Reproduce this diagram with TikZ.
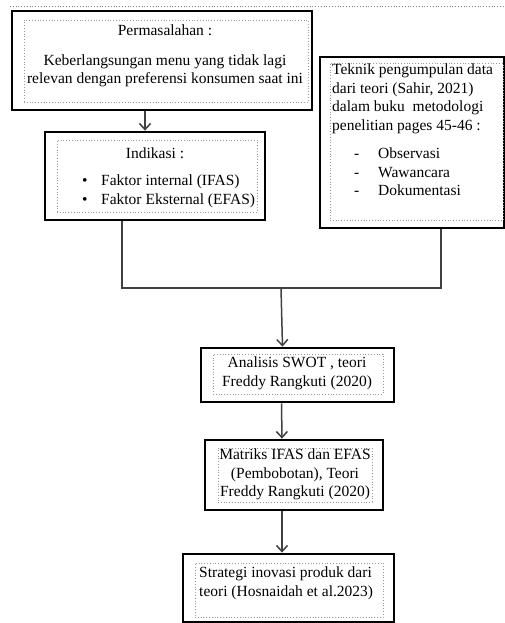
\documentclass[tikz,border=0pt]{standalone}
\usepackage{fontspec}
\setmainfont{Liberation Serif}
\usetikzlibrary{arrows.meta}

\newcommand{\butir}[1]{\makebox[19pt][l]{\textbullet}#1}
\newcommand{\tanda}[1]{\hspace*{22pt}\makebox[24pt][l]{-}#1}

\tikzset{
  kotak/.style args={#1 by #2}{draw=black,line width=2.8pt,minimum width=#1,minimum height=#2,inner sep=0pt},
  bingkai/.style args={#1 by #2}{draw=gray!80,dotted,line width=0.8pt,minimum width=#1,minimum height=#2,inner sep=0pt},
  teks/.style={inner sep=0pt,align=center,text=black},
  panah/.style={draw=black!75,line width=1.5pt}
}

\begin{document}
\begin{tikzpicture}[x=1pt,y=-1pt,>={Straight Barb[length=6pt,width=11pt]},
  font=\fontsize{15.5pt}{18.5pt}\selectfont]
  \useasboundingbox (0,0) rectangle (505,623);
  \draw[dotted,gray,line width=0.8pt] (10,6) -- (505,6);

  % permasalahan
  \node[kotak={300pt by 99pt}] (masalah) at (162,60.5) {};
  \node[bingkai={284pt by 82pt}] (masalah-in) at (166,61) {};
  \node[teks,anchor=north] (masalah-txt) at (165,25) {Permasalahan :\\[11pt]Keberlangsungan menu yang tidak lagi\\relevan dengan preferensi konsumen saat ini};

  % indikasi
  \node[kotak={220pt by 88pt}] (indikasi) at (155,176) {};
  \node[bingkai={200pt by 72pt}] (indikasi-in) at (157,176) {};
  \node[teks,anchor=north] (indikasi-judul) at (155,148) {Indikasi :};
  \node[teks,anchor=north west,align=left] (indikasi-isi) at (82,175) {\butir{Faktor internal (IFAS)}\\\butir{Faktor Eksternal (EFAS)}};

  % teknik pengumpulan data
  \node[kotak={184pt by 171pt}] (teknik) at (412,142.5) {};
  \node[bingkai={173pt by 157pt}] (teknik-in) at (416.5,141.5) {};
  \node[teks,anchor=north west,align=left] (teknik-txt) at (332,64) {Teknik pengumpulan data\\dari teori (Sahir, 2021)\\dalam buku\ \ metodologi\\penelitian pages 45-46 :\\[10pt]\tanda{Observasi}\\\tanda{Wawancara}\\\tanda{Dokumentasi}};

  % analisis swot
  \node[kotak={193pt by 54pt}] (swot) at (297.5,375) {};
  \node[bingkai={170pt by 40pt}] (swot-in) at (298,374) {};
  \node[teks,anchor=north] (swot-txt) at (297,357) {Analisis SWOT , teori\\Freddy Rangkuti (2020)};

  % matriks ifas efas
  \node[kotak={178pt by 70pt}] (matriks) at (294,475) {};
  \node[bingkai={154pt by 54pt}] (matriks-in) at (295,475) {};
  \node[teks,anchor=north] (matriks-txt) at (295,449) {Matriks IFAS dan EFAS\\(Pembobotan), Teori\\Freddy Rangkuti (2020)};

  % strategi
  \node[kotak={211pt by 68pt}] (strategi) at (288.5,588) {};
  \node[bingkai={188pt by 54pt}] (strategi-in) at (289,590) {};
  \node[teks,anchor=north west,align=left] (strategi-txt) at (199,567) {Strategi inovasi produk dari\\teori (Hosnaidah et al.2023)};

  % penghubung
  \coordinate (temu) at (281,288);
  \draw[panah,->] ([xshift=-17pt]masalah.south) -- ([xshift=-10pt]indikasi.north);
  \draw[panah] ([xshift=-33pt]indikasi.south) |- (temu) -| ([xshift=29pt]teknik.south);
  \draw[panah,->] (temu) -- ([xshift=-15pt]swot.north);
  \draw[panah,->] ([xshift=-16pt]swot.south) -- ([xshift=-12pt]matriks.north);
  \draw[panah,->] ([xshift=-12pt]matriks.south) -- ([xshift=-6.5pt]strategi.north);
\end{tikzpicture}
\end{document}
